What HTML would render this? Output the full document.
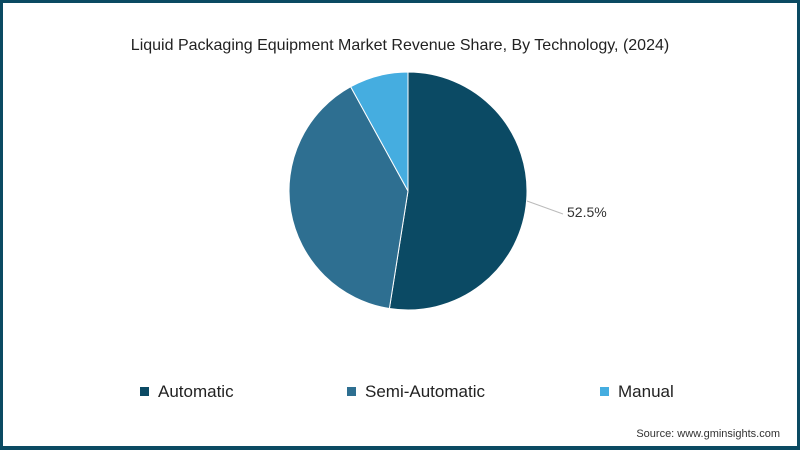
<!DOCTYPE html>
<html><head><meta charset="utf-8"><style>
body{margin:0;width:800px;height:450px;overflow:hidden;background:#fff;font-family:"Liberation Sans",sans-serif}
#frame{position:absolute;left:0;top:0;width:800px;height:450px;box-sizing:border-box;border:3px solid #0b4a62;border-bottom-width:4px}
</style></head><body>
<div id="frame"></div>
<svg width="800" height="450" style="position:absolute;left:0;top:0">
<text x="400" y="50" text-anchor="middle" font-size="16" fill="#222">Liquid Packaging Equipment Market Revenue Share, By  Technology, (2024)</text>
<g id="pie"></g>
<line x1="527" y1="201" x2="563" y2="214" stroke="#bbb" stroke-width="1"/>
<text x="567" y="217" font-size="14" fill="#333">52.5%</text>
<g id="legend"></g>
<text x="780" y="437" text-anchor="end" font-size="11" fill="#333">Source: www.gminsights.com</text>
</svg>
<script>
const categories=["Automatic","Semi-Automatic","Manual"];
const values=[52.5,39.5,8.0];
const colors=["#0b4a64","#2e6f91","#45ade0"];
const cx=408,cy=191,r=119;
const ns="http://www.w3.org/2000/svg";
const pie=document.getElementById('pie');
const total=values.reduce((a,b)=>a+b,0);
let a0=0;
values.forEach((v,i)=>{
 const a1=a0+v/total*2*Math.PI;
 const p=(a)=>[cx+r*Math.sin(a),cy-r*Math.cos(a)];
 const [x0,y0]=p(a0),[x1,y1]=p(a1);
 const el=document.createElementNS(ns,'path');
 el.setAttribute('d',`M${cx},${cy}L${x0},${y0}A${r},${r} 0 ${a1-a0>Math.PI?1:0} 1 ${x1},${y1}Z`);
 el.setAttribute('fill',colors[i]);el.setAttribute('stroke','#fff');el.setAttribute('stroke-width','1');
 
 
 pie.appendChild(el);a0=a1;
});
const lx=[140,347,600];
const lg=document.getElementById('legend');
categories.forEach((c,i)=>{
 const g=document.createElementNS(ns,'g');
 
 
 const s=document.createElementNS(ns,'rect');
 s.setAttribute('x',lx[i]);s.setAttribute('y',387);s.setAttribute('width',9);s.setAttribute('height',9);s.setAttribute('fill',colors[i]);
 const t=document.createElementNS(ns,'text');
 t.setAttribute('x',lx[i]+18);t.setAttribute('y',397);t.setAttribute('font-size','17');t.setAttribute('fill','#222');
 t.textContent=c;
 g.appendChild(s);g.appendChild(t);lg.appendChild(g);
});
</script>
</body></html>
